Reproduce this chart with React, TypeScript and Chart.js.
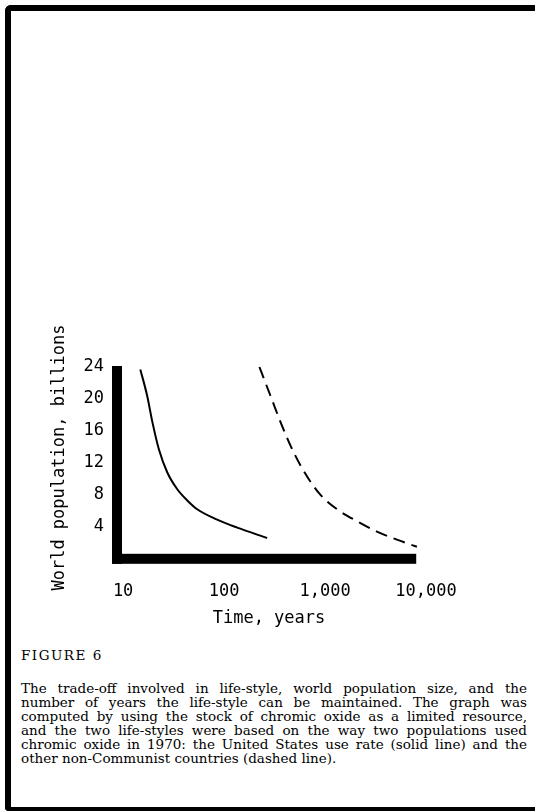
import React, { useEffect, useRef } from "react";
import { Chart, registerables } from "chart.js";

Chart.register(...registerables);

// ---- data ----
const xTickYears = [10, 100, 1000, 10000];
const yTickPop = [4, 8, 12, 16, 20, 24];

// United States use rate (solid line)
const solidYears = [14.8, 17.3, 19.5, 22.6, 27.4, 34.4, 43.2, 54.2, 85.5, 135, 267];
const solidPop = [23.7, 20.4, 17.1, 13.7, 10.8, 8.7, 7.3, 6.2, 4.9, 3.9, 2.6];

// Other non-Communist countries (dashed line)
const dashedYears = [224, 288, 376, 490, 664, 902, 1316, 2075, 3266, 5150, 8128];
const dashedPop = [24.0, 20.4, 16.6, 13.3, 10.3, 8.0, 6.2, 4.7, 3.4, 2.4, 1.5];

// extent of the drawn axes
const axisTopPop = 24;
const axisEndYears = 8000;

const captionLines = [
  "The trade-off involved in life-style, world population size, and the",
  "number of years the life-style can be maintained. The graph was",
  "computed by using the stock of chromic oxide as a limited resource,",
  "and the two life-styles were based on the way two populations used",
  "chromic oxide in 1970: the United States use rate (solid line) and the",
  "other non-Communist countries (dashed line).",
];

const MONO = "'DejaVu Sans Mono', monospace";
const BAR = 10;

const thickAxes = {
  id: "thickAxes",
  beforeDatasetsDraw(chart: any) {
    const { ctx, chartArea, scales } = chart;
    const x = scales.x;
    const y = scales.y;
    const y0 = y.getPixelForValue(0);
    const yTop = y.getPixelForValue(axisTopPop) - 1;
    const xEnd = x.getPixelForValue(axisEndYears);
    ctx.save();
    ctx.fillStyle = "#000";
    ctx.fillRect(chartArea.left, yTop, BAR, y0 + BAR / 2 - yTop);
    ctx.fillRect(chartArea.left, y0 - BAR / 2, xEnd - chartArea.left, BAR);
    ctx.restore();
  },
};

function TradeoffChart() {
  const ref = useRef<HTMLCanvasElement | null>(null);
  useEffect(() => {
    if (!ref.current) return;
    Chart.defaults.color = "#000";
    const chart = new Chart(ref.current, {
      type: "line",
      data: {
        datasets: [
          {
            label: "United States use rate",
            data: solidYears.map((v, i) => ({ x: v, y: solidPop[i] })),
            borderColor: "#000",
            borderWidth: 2,
            pointRadius: 0,
            cubicInterpolationMode: "monotone",
            fill: false,
          },
          {
            label: "Other non-Communist countries",
            data: dashedYears.map((v, i) => ({ x: v, y: dashedPop[i] })),
            borderColor: "#000",
            borderWidth: 2,
            borderDash: [12, 7],
            pointRadius: 0,
            cubicInterpolationMode: "monotone",
            fill: false,
          },
        ],
      },
      options: {
        responsive: false,
        animation: false,
        events: [],
        layout: { padding: { left: 49, top: 51, right: 109, bottom: 10.8 } },
        plugins: { legend: { display: false }, tooltip: { enabled: false } },
        scales: {
          x: {
            type: "logarithmic",
            min: 7.76,
            max: 10000,
            grid: { display: false, drawTicks: false },
            border: { display: false },
            afterBuildTicks: (s: any) => {
              s.ticks = xTickYears.map((v) => ({ value: v }));
            },
            afterFit: (s: any) => {
              s.height = 65.2;
            },
            ticks: {
              padding: 17,
              maxRotation: 0,
              autoSkip: false,
              color: "#000",
              font: { family: MONO, size: 17 },
              callback: (v: any) => Number(v).toLocaleString("en-US"),
            },
            title: {
              display: true,
              text: "Time, years",
              color: "#000",
              padding: 0,
              font: { family: MONO, size: 17 },
            },
          },
          y: {
            type: "linear",
            min: -0.65,
            max: 26,
            grid: { display: false, drawTicks: false },
            border: { display: false },
            afterBuildTicks: (s: any) => {
              s.ticks = yTickPop.map((v) => ({ value: v }));
            },
            afterFit: (s: any) => {
              s.width = 63;
            },
            ticks: {
              padding: 8,
              autoSkip: false,
              color: "#000",
              font: { family: MONO, size: 17 },
            },
            title: {
              display: true,
              text: "World population, billions",
              color: "#000",
              padding: 0,
              font: { family: MONO, size: 17 },
            },
          },
        },
      },
      plugins: [thickAxes],
    } as any);
    return () => chart.destroy();
  }, []);
  return <canvas ref={ref} width={535} height={340} style={{ display: "block" }} />;
}

export default function App() {
  const serif = "'DejaVu Serif', 'Liberation Serif', serif";
  return (
    <div style={{ position: "fixed", inset: 0, overflow: "hidden", background: "#fff" }}>
      <div
        style={{
          position: "absolute",
          left: 5,
          top: 5,
          width: 620,
          height: 806,
          boxSizing: "border-box",
          borderLeft: "6px solid #000",
          borderTop: "6px solid #000",
          borderBottom: "4px solid #000",
          borderTopLeftRadius: 6,
          borderBottomLeftRadius: 4,
        }}
      />
      <div style={{ position: "absolute", left: 0, top: 300, width: 535, height: 340 }}>
        <TradeoffChart />
      </div>
      <div
        style={{
          position: "absolute",
          left: 21,
          top: 648,
          fontFamily: serif,
          fontSize: 13.5,
          lineHeight: "15px",
          letterSpacing: 1.5,
          color: "#000",
          whiteSpace: "nowrap",
        }}
      >
        FIGURE 6
      </div>
      <div
        style={{
          position: "absolute",
          left: 21,
          top: 681,
          width: 506,
          fontFamily: serif,
          fontSize: 13.5,
          lineHeight: "14px",
          color: "#000",
        }}
      >
        {captionLines.map((line, i) => (
          <div
            key={i}
            style={{
              textAlign: i === captionLines.length - 1 ? "left" : "justify",
              textAlignLast: i === captionLines.length - 1 ? "left" : "justify",
              whiteSpace: "nowrap",
            }}
          >
            {line}
          </div>
        ))}
      </div>
    </div>
  );
}
